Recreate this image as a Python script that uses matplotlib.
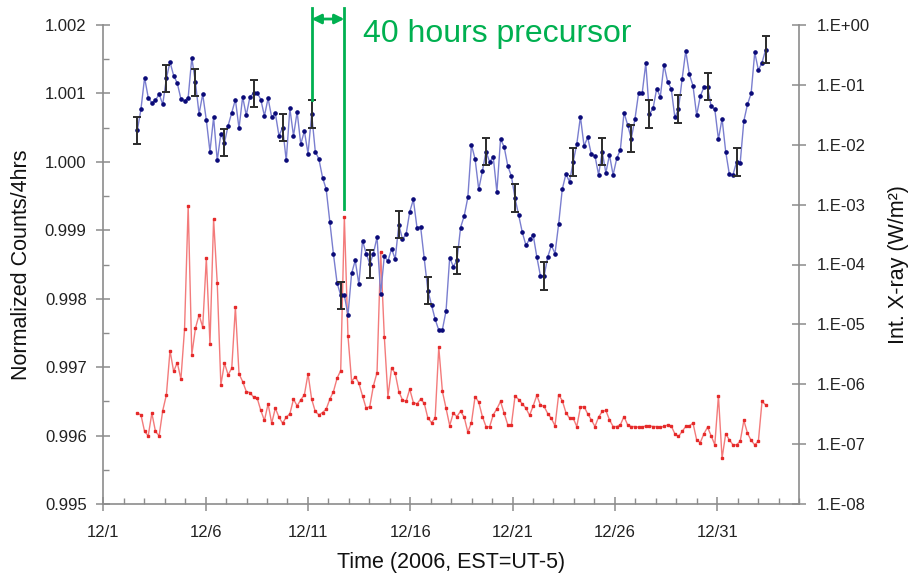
import numpy as np
import matplotlib
matplotlib.use("Agg")
import matplotlib.pyplot as plt
from matplotlib.ticker import MultipleLocator, FixedLocator, NullLocator, FuncFormatter
from matplotlib.transforms import blended_transform_factory

plt.rcParams["font.family"] = ["Liberation Sans", "DejaVu Sans"]

# ── data ───────────────────────────────────────────────────────────────────
# 4-hourly samples, day 1 = 12/1 00:00
T_START, T_END = 2.663, 33.37

counts = [
    1.00046, 1.00077, 1.00123, 1.00094, 1.00086, 1.00090, 1.00099, 1.00084, 1.00122, 1.00146,
    1.00126, 1.00115, 1.00092, 1.00089, 1.00094, 1.00152, 1.00116, 1.00070, 1.00099, 1.00061,
    1.00015, 1.00065, 1.00002, 1.00041, 1.00028, 1.00053, 1.00072, 1.00091, 1.00049, 1.00095,
    1.00068, 1.00095, 1.00100, 1.00101, 1.00091, 1.00067, 1.00093, 1.00065, 1.00071, 1.00038,
    1.00050, 1.00002, 1.00078, 1.00038, 1.00073, 1.00026, 1.00045, 1.00012, 1.00070, 1.00015,
    1.00004,
    0.99977, 0.99960, 0.99912, 0.99865, 0.99823, 0.99805,
    0.99805, 0.99776, 0.99837, 0.99856, 0.99821, 0.99885, 0.99866, 0.99851, 0.99866, 0.99890,
    0.99807, 0.99862, 0.99855, 0.99873, 0.99858, 0.99908, 0.99887, 0.99894, 0.99927, 0.99945,
    0.99904, 0.99905, 0.99859, 0.99812, 0.99791, 0.99770, 0.99754, 0.99755, 0.99782, 0.99860,
    0.99847, 0.99856, 0.99904, 0.99921, 0.99948, 1.00025, 1.00004, 0.99960, 0.99986, 1.00015,
    1.00000, 1.00007, 0.99956, 1.00033, 1.00022, 0.99994, 0.99979, 0.99947, 0.99922, 0.99897,
    0.99878, 0.99887, 0.99893, 0.99861, 0.99833, 0.99833, 0.99861, 0.99878, 0.99866,
    0.99909, 0.99960, 0.99982, 0.99971, 1.00000, 1.00026, 1.00066, 1.00023, 1.00036, 1.00011,
    1.00009, 0.99981, 1.00015, 0.99984, 1.00010, 0.99981, 1.00005, 1.00018, 1.00072, 1.00054,
    1.00034, 1.00062, 1.00100, 1.00100, 1.00144, 1.00070, 1.00078, 1.00107, 1.00095,
    1.00142, 1.00117, 1.00107, 1.00065, 1.00077, 1.00121, 1.00162, 1.00128, 1.00111, 1.00068,
    1.00096, 1.00109, 1.00110, 1.00081, 1.00077, 1.00033, 1.00063, 1.00015, 0.99982, 0.99981,
    1.00000, 0.99999, 1.00060, 1.00084, 1.00100, 1.00160, 1.00134, 1.00145, 1.00164,
]
count_err = 0.0002
errbar_idx = [0, 8, 16, 24, 32, 40, 48, 56, 64, 72, 80, 88, 96, 104, 112,
              120, 128, 136, 141, 149, 157, 165, 173]

# integrated X-ray flux, log10(W/m^2)
xray_log10 = [
    -6.483, -6.511, -6.789, -6.861, -6.483, -6.789, -6.861, -6.439, -6.177, -5.437,
    -5.787, -5.637, -5.915, -5.080, -3.016, -5.509, -5.064, -4.841, -5.047, -3.895,
    -5.326, -3.244, -4.302, -6.010, -5.648, -5.843, -5.731, -4.713, -5.826,
    -5.955, -6.122, -6.138, -6.216, -6.232, -6.438, -6.605, -6.327, -6.650, -6.399,
    -6.550, -6.650, -6.550, -6.494, -6.249, -6.361, -6.260, -6.177, -5.826, -6.249,
    -6.455, -6.511, -6.472, -6.416, -6.249, -6.122, -5.899, -5.771,
    -3.200, -5.192, -5.955, -5.871, -5.982, -6.194, -6.399, -6.372, -6.027, -5.805,
    -3.784, -5.203, -6.205, -5.731, -5.815, -6.122, -6.260, -6.288, -6.082, -6.305,
    -6.327, -6.249, -6.316, -6.566, -6.639, -6.566, -5.381,
    -6.12, -6.40, -6.69, -6.483, -6.54, -6.45, -6.55, -6.80, -6.639, -6.205,
    -6.30, -6.539, -6.706, -6.71, -6.51, -6.41, -6.288, -6.48, -6.678, -6.678,
    -6.194, -6.255, -6.327, -6.40, -6.52, -6.36, -6.185, -6.35, -6.37, -6.49,
    -6.57, -6.694,
    -6.177, -6.272, -6.472, -6.566, -6.566, -6.706, -6.383, -6.372, -6.494, -6.594,
    -6.706, -6.550, -6.455, -6.438, -6.594, -6.706, -6.706, -6.678, -6.539, -6.678,
    -6.706, -6.706, -6.717, -6.717, -6.694, -6.694, -6.706, -6.706, -6.717,
    -6.705, -6.68, -6.694, -6.828, -6.872, -6.789, -6.705, -6.694, -6.650, -6.928,
    -6.973, -6.828, -6.717, -6.861, -7.011, -6.193, -7.234, -6.828, -6.928, -7.011,
    -7.011, -6.950, -6.605, -6.816, -6.939, -7.011, -6.950, -6.288, -6.344,
]

x_ticks = [1, 6, 11, 16, 21, 26, 31]
x_labels = ["12/1", "12/6", "12/11", "12/16", "12/21", "12/26", "12/31"]
xray_ticks = [1e-8, 1e-7, 1e-6, 1e-5, 1e-4, 1e-3, 1e-2, 1e-1, 1e0]
xray_labels = ["1.E-08", "1.E-07", "1.E-06", "1.E-05", "1.E-04",
               "1.E-03", "1.E-02", "1.E-01", "1.E+00"]

precursor_from = 48   # index in counts (onset of decrease)
precursor_to = 57     # index in xray (flare peak)

# ── drawing ────────────────────────────────────────────────────────────────
counts = np.array(counts)
xray = 10 ** np.array(xray_log10)
days = np.linspace(T_START, T_END, len(counts))

SPINE = "#8c8c8c"
GREEN = "#00b050"

fig = plt.figure(figsize=(9.1, 5.76), dpi=100)
ax = fig.add_axes([103.3 / 910, 1 - 504 / 576, (799 - 103.3) / 910, (504 - 25) / 576])
ax2 = ax.twinx()

ax2.plot(days, xray, color="#f37b7b", lw=1.0, zorder=2)
ax2.plot(days, xray, ls="none", marker="s", ms=1.6, color="#e52a2a", zorder=3)

ax.plot(days, counts, color="#7a7ecf", lw=1.0, zorder=2)
ax.plot(days, counts, ls="none", marker="o", ms=2.3, color="#0a0a78", zorder=3)
ax.errorbar(days[errbar_idx], counts[errbar_idx], yerr=count_err, fmt="none",
            ecolor="#2b2b2b", elinewidth=1.4, capsize=3, capthick=1.4, zorder=4)

# put blue axis on top so its markers are not hidden
ax.set_zorder(ax2.get_zorder() + 1)
ax.patch.set_visible(False)

ax.set_xlim(1, 35)
ax.set_ylim(0.995, 1.002)
ax2.set_yscale("log")
ax2.set_ylim(1e-8, 1e0)

ax.xaxis.set_major_locator(FixedLocator(x_ticks))
ax.set_xticklabels(x_labels)
ax.xaxis.set_minor_locator(MultipleLocator(1))
ax.yaxis.set_major_locator(MultipleLocator(0.001))
ax.yaxis.set_minor_locator(MultipleLocator(0.0005))
ax.yaxis.set_major_formatter(FuncFormatter(lambda v, _: f"{v:.3f}"))

ax2.yaxis.set_major_locator(FixedLocator(xray_ticks))
ax2.set_yticklabels(xray_labels)
ax2.yaxis.set_minor_locator(NullLocator())

for a in (ax, ax2):
    a.tick_params(which="major", direction="inout", length=10, width=1.1,
                  color=SPINE, labelsize=12, labelcolor="#222222")
    a.tick_params(which="minor", direction="in", length=4, width=1.0, color=SPINE)
    for s in a.spines.values():
        s.set_color(SPINE)
        s.set_linewidth(1.2)
    a.spines["top"].set_visible(False)
ax.spines["right"].set_visible(False)
ax2.spines["left"].set_visible(False)
ax2.spines["bottom"].set_visible(False)
ax.tick_params(axis="x", pad=10)
ax.tick_params(axis="y", pad=7)
ax2.tick_params(axis="y", pad=8)

ax.set_xlabel("Time (2006, EST=UT-5)", fontsize=15.5, color="#111111")
ax.set_ylabel("Normalized Counts/4hrs", fontsize=15.5, color="#111111")
ax2.set_ylabel("Int. X-ray (W/m²)", fontsize=15.5, color="#111111")
ax.xaxis.set_label_coords(0.5, -0.1)
ax.yaxis.set_label_coords(-0.102, 0.5)
ax2.yaxis.set_label_coords(1.128, 0.5)

# ── 40 hours precursor annotation ─────────────────────────────────────────
trans = blended_transform_factory(ax.transData, ax.transAxes)
x0 = days[precursor_from]
x1 = days[precursor_to]
y_start0 = ax.transAxes.inverted().transform(
    ax.transData.transform((x0, counts[precursor_from] + count_err)))[1]
y_start1 = ax.transAxes.inverted().transform(
    ax2.transData.transform((x1, xray[precursor_to] * 1.35)))[1]
top = 1.036
ax.plot([x0, x0], [y_start0, top], color=GREEN, lw=2, transform=trans, clip_on=False, zorder=6)
ax.plot([x1, x1], [y_start1, top], color=GREEN, lw=2, transform=trans, clip_on=False, zorder=6)
ax.annotate("", xy=(x0, 1.0125), xytext=(x1, 1.0125), xycoords=trans, textcoords=trans,
            arrowprops=dict(arrowstyle="<|-|>", color=GREEN, lw=2, mutation_scale=14,
                            shrinkA=0, shrinkB=0), zorder=6, annotation_clip=False)
ax.text(13.7, 0.982, "40 hours precursor", transform=trans, color=GREEN,
        fontsize=23, ha="left", va="center")

fig.savefig("out.png", dpi=100)
